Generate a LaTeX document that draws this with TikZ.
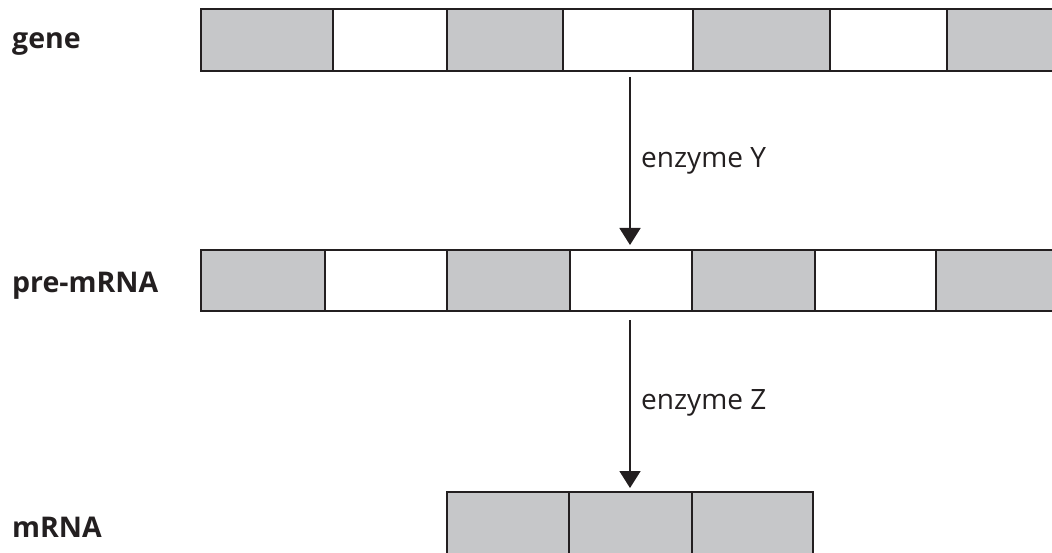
\documentclass[tikz,border=0pt]{standalone}
\usepackage{fontspec}
\setmainfont{Open Sans}
\usetikzlibrary{arrows.meta}
\definecolor{exon}{HTML}{C6C7C9}
\definecolor{ink}{HTML}{231F20}
\begin{document}
\begin{tikzpicture}[x=1pt,y=-1pt,
  seg/.style={draw=ink,line width=2.2pt,inner sep=0pt,outer sep=0pt},
  exbox/.style={seg,fill=exon},
  inbox/.style={seg,fill=white},
  arr/.style={draw=ink,line width=1.8pt,-{Triangle[width=21pt,length=17pt]}},
  lab/.style={font=\fontsize{28.5}{31}\selectfont\bfseries,anchor=base west,inner sep=0pt,text=ink},
  enz/.style={font=\fontsize{28}{31}\selectfont,anchor=base west,inner sep=0pt,text=ink}]
\useasboundingbox (0,0) rectangle (1052,553);
\clip (0,0) rectangle (1052,553);
% gene
\foreach \a/\b/\s [count=\i] in {201/333/exbox,333/447/inbox,447/563/exbox,563/693/inbox,693/830/exbox,830/947/inbox,947/1070/exbox}{
  \node[\s,minimum width={\b-\a},minimum height=62pt,anchor=north west] (g\i) at (\a,9) {};
}
% pre-mRNA
\foreach \a/\b/\s [count=\i] in {201/325/exbox,325/447/inbox,447/570/exbox,570/692/inbox,692/815/exbox,815/936/inbox,936/1070/exbox}{
  \node[\s,minimum width={\b-\a},minimum height=61pt,anchor=north west] (p\i) at (\a,250) {};
}
% mRNA
\foreach \a/\b [count=\i] in {447/569,569/692,692/813}{
  \node[exbox,minimum width={\b-\a},minimum height=80pt,anchor=north west] (m\i) at (\a,492) {};
}
\coordinate (ax) at (630,0);
\draw[arr,shorten <=6pt,shorten >=5pt] (g4.south -| ax) -- (p4.north -| ax);
\draw[arr,shorten <=9pt,shorten >=4pt] (p4.south -| ax) -- (m2.north -| ax);
\node[enz] (ey) at (641,168) {enzyme Y};
\node[enz] (ez) at (641,409) {enzyme Z};
\node[lab] (lg) at (12,49) {gene};
\node[lab] (lp) at (12,293) {pre-mRNA};
\node[lab] (lm) at (12,537) {mRNA};
\end{tikzpicture}
\end{document}
